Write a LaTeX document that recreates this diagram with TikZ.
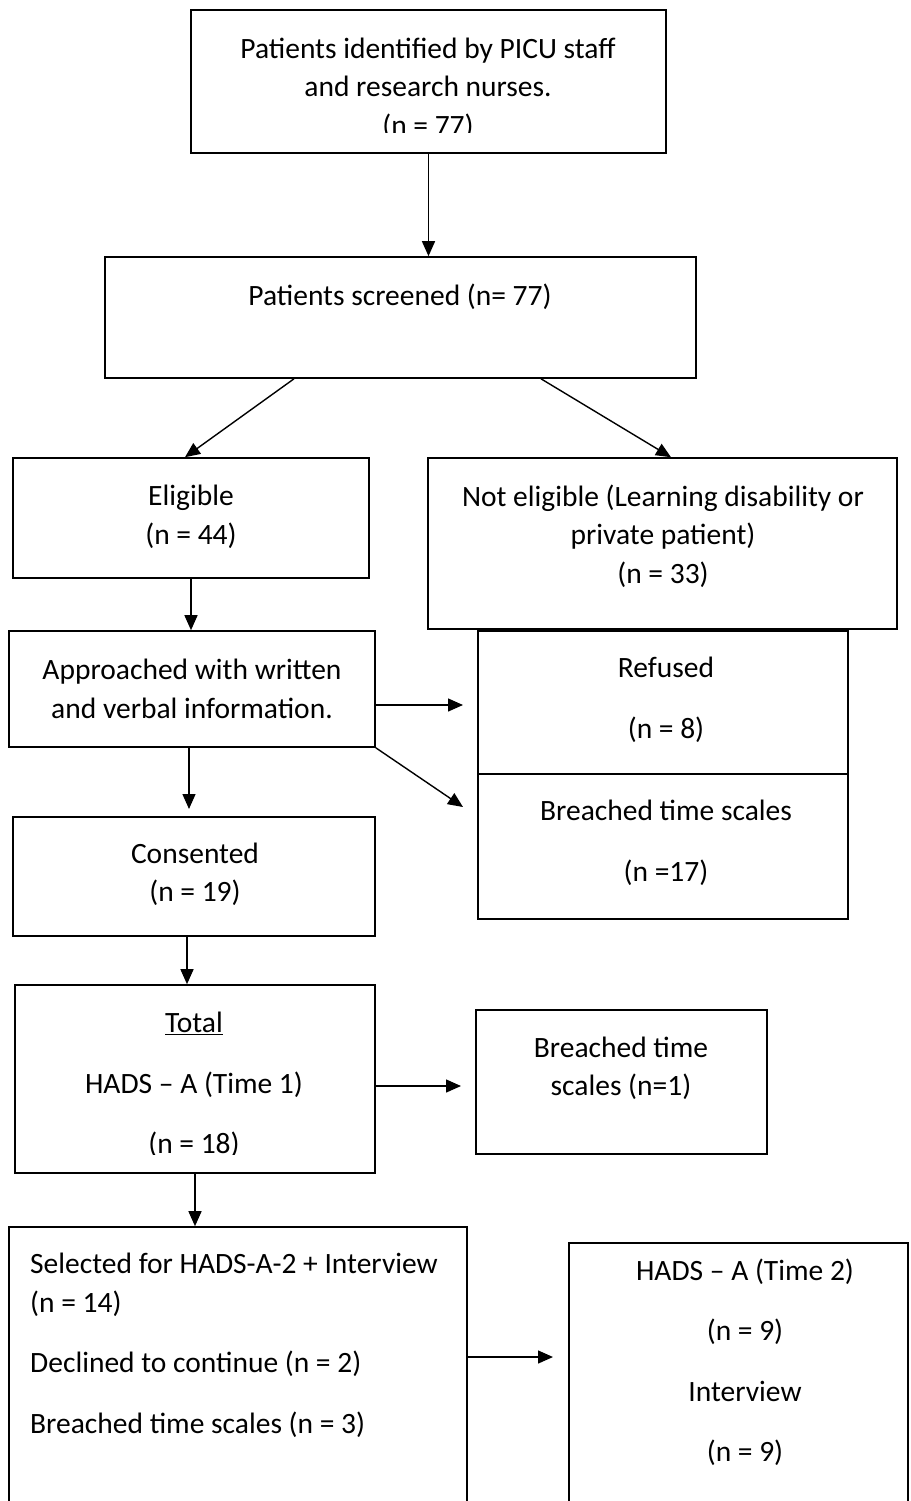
\documentclass[tikz,border=0pt]{standalone}
\usepackage{fontspec}
\setmainfont{Carlito}
\usepackage{tikz}
\usetikzlibrary{arrows.meta,positioning,calc}

\tikzset{
  panel/.style={draw, line width=1.6pt, inner sep=0pt},
  words/.style={font=\fontsize{29.5}{38.5}\selectfont, align=center, inner sep=0pt},
  arr/.style={line width=1.4pt, -{Triangle[length=15pt,width=13pt]}},
}

\begin{document}
\begin{tikzpicture}[x=1pt,y=-1pt]
    \useasboundingbox (0,0) rectangle (910,1501);

    % Identified
    \node[panel, minimum width=475, minimum height=143] (ident) at (428.5,81.5) {};
    \node[words] (identtxt) at (428,88.5) {Patients identified by PICU staff\\and research nurses.\\(n = 77)};
    \fill[white] (193,133) rectangle (664,151); % text cut off by the box

    % Screened
    \node[panel, minimum width=591, minimum height=121] (scr) at (400.5,317.5) {};
    \node[words] (scrtxt) at (400,297) {Patients screened (n= 77)};

    % Eligible / not eligible
    \node[panel, minimum width=356, minimum height=120] (elig) at (191,518) {};
    \node[words] (eligtxt) at (191,517) {Eligible\\(n = 44)};
    \node[panel, minimum width=469, minimum height=171] (nelig) at (662.5,543.5) {};
    \node[words] (neligtxt) at (663,536) {Not eligible (Learning disability or\\private patient)\\(n = 33)};

    % Approached
    \node[panel, minimum width=366, minimum height=116] (appr) at (192,689) {};
    \node[words] (apprtxt) at (192,689) {Approached with written\\and verbal information.};

    % Refused / breached
    \node[panel, minimum width=370, minimum height=143] (refu) at (663,702.5) {};
    \node[words] (refutxt) at (666,700) {Refused\\[22pt](n = 8)};
    \node[panel, minimum width=370, minimum height=145] (brch) at (663,846.5) {};
    \node[words] (brchtxt) at (666,843) {Breached time scales\\[22pt](n =17)};

    % Consented
    \node[panel, minimum width=362, minimum height=119] (cons) at (194,876.5) {};
    \node[words] (constxt) at (195,874.5) {Consented\\(n = 19)};

    % HADS time 1
    \node[panel, minimum width=360, minimum height=188] (hads) at (195,1079) {};
    \node[words] (hadstxt) at (194,1085) {\underline{Total}\\[22pt]HADS – A (Time 1)\\[22pt](n = 18)};
    \fill[white] (17,1155) rectangle (373,1171); % text cut off by the box
    \node[panel, minimum width=291, minimum height=144] (brone) at (621.5,1082) {};
    \node[words] (bronetxt) at (621,1068.5) {Breached time\\scales (n=1)};

    % Selected / HADS time 2
    \node[panel, minimum width=458, minimum height=278] (sel) at (238,1366) {};
    \node[words, align=left, anchor=west] (seltxt) at (30,1345.5) {Selected for HADS-A-2 + Interview\\(n = 14)\\[22pt]Declined to continue (n = 2)\\[22pt]Breached time scales (n = 3)};
    \node[panel, minimum width=339, minimum height=262] (hadstwo) at (738.5,1374) {};
    \node[words] (hadstwotxt) at (745,1362) {HADS – A (Time 2)\\[22pt](n = 9)\\[22pt]Interview\\[22pt](n = 9)};

    % Arrow ends
    \coordinate (tipR) at (463,705);
    \coordinate (tipB) at (463,807);
    \coordinate (tipC) at (189,809);
    \coordinate (tipH) at (187,936);
    \coordinate (tipJ) at (461,1086);
    \coordinate (tipL) at (553,1357);

    % Arrows
    \draw[arr] (ident.south) -- (ident.south |- scr.north);
    \draw[arr] ([xshift=-106.5pt]scr.south) -- ([xshift=-6pt]elig.north);
    \draw[arr] ([xshift=140.5pt]scr.south) -- ([xshift=8.5pt]nelig.north);
    \draw[arr] (elig.south) -- (elig.south |- appr.north);
    \draw[arr] (appr.east |- tipR) -- (tipR);
    \draw[arr] (appr.south east) -- (tipB);
    \draw[arr] (tipC |- appr.south) -- (tipC);
    \draw[arr] (tipH) -- (tipH |- hads.north);
    \draw[arr] (hads.east |- tipJ) -- (tipJ);
    \draw[arr] (hads.south) -- (hads.south |- sel.north);
    \draw[arr] (sel.east |- tipL) -- (tipL);
\end{tikzpicture}
\end{document}
